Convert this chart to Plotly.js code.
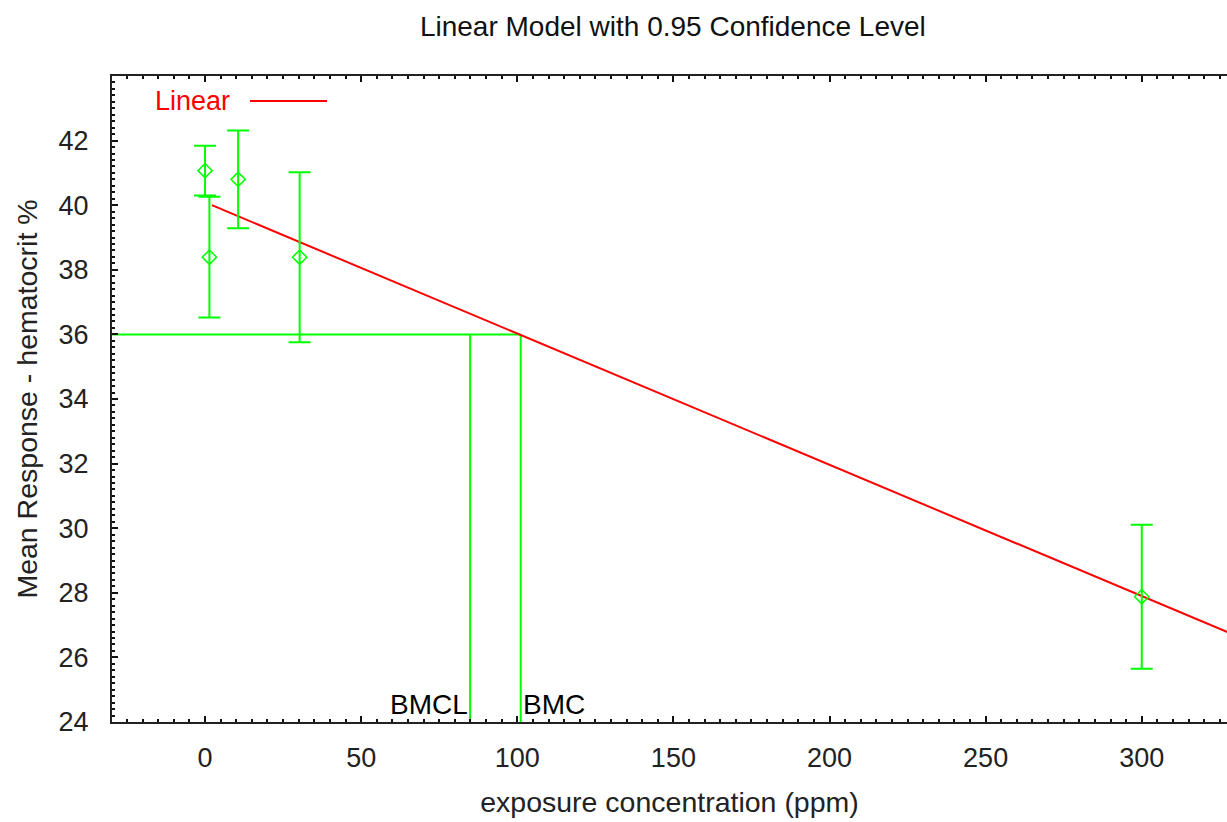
<!DOCTYPE html>
<html>
<head>
<meta charset="utf-8">
<script src="https://cdn.plot.ly/plotly-3.0.1.min.js"></script>
<style>html,body{margin:0;padding:0;background:#fff;overflow:hidden}</style>
</head>
<body>
<div id="chart" style="width:1227px;height:822px"></div>
<script>
// Observed data (dose, mean, +/- CI half-width)
const doses = [0, 1.4, 10.6, 30.3, 300];
const means = [41.07, 38.39, 40.80, 38.39, 27.88];
const errHalf = [0.77, 1.87, 1.51, 2.63, 2.23];

// Fitted linear model line (end points)
const fitX = [2.2, 330];
const fitY = [40.0, 26.68];

// Benchmark values
const bmrLevel = 36;
const bmc = 101.1;
const bmcl = 84.9;
const yFloor = 24;
const xLeft = -29.8;

const xTicks = [0, 50, 100, 150, 200, 250, 300];
const yTicks = [24, 26, 28, 30, 32, 34, 36, 38, 40, 42];

const GREEN = '#00ff00';
const RED = '#ff0000';
const FONT = 'Liberation Sans, Arial, sans-serif';

const traces = [
  {x: [xLeft, bmc], y: [bmrLevel, bmrLevel], mode: 'lines', line: {color: GREEN, width: 2}, hoverinfo: 'skip'},
  {x: [bmcl, bmcl], y: [yFloor, bmrLevel], mode: 'lines', line: {color: GREEN, width: 2}, hoverinfo: 'skip'},
  {x: [bmc, bmc], y: [yFloor, bmrLevel], mode: 'lines', line: {color: GREEN, width: 2}, hoverinfo: 'skip'},
  {x: fitX, y: fitY, mode: 'lines', name: 'Linear', line: {color: RED, width: 2}},
  {x: doses, y: means, mode: 'markers',
   marker: {symbol: 'diamond-open', size: 11, color: GREEN, line: {width: 1.5, color: GREEN}},
   error_y: {type: 'data', array: errHalf, visible: true, color: GREEN, thickness: 2, width: 11}}
];

const layout = {
  width: 1227, height: 822,
  margin: {l: 112, r: 0, t: 76, b: 100},
  paper_bgcolor: '#fff', plot_bgcolor: '#fff',
  showlegend: false,
  font: {family: FONT, size: 26, color: '#222'},
  title: {text: 'Linear Model with 0.95 Confidence Level', font: {family: FONT, size: 28, color: '#111'},
          xref: 'paper', x: 0.503, xanchor: 'center', yref: 'container', y: 1 - 26/822, yanchor: 'middle'},
  xaxis: {
    range: [xLeft, 327.3], tickvals: xTicks, ticktext: xTicks.map(String),
    ticks: 'inside', ticklen: 6, tickwidth: 2, tickcolor: '#111',
    minor: {dtick: 5, ticks: 'inside', ticklen: 3, tickwidth: 2, tickcolor: '#111'},
    showline: true, linecolor: '#222', linewidth: 2, mirror: 'ticks',
    showgrid: false, zeroline: false, ticklabelstandoff: 11,
    tickfont: {family: FONT, size: 27, color: '#222'},
    title: {text: 'exposure concentration (ppm)', font: {family: FONT, size: 28.5, color: '#222'}, standoff: 20}
  },
  yaxis: {
    range: [24, 44], tickvals: yTicks, ticktext: yTicks.map(String),
    ticks: 'inside', ticklen: 6, tickwidth: 2, tickcolor: '#111',
    minor: {dtick: 0.2, ticks: 'inside', ticklen: 3, tickwidth: 2, tickcolor: '#111'},
    showline: true, linecolor: '#222', linewidth: 2, mirror: false,
    showgrid: false, zeroline: false, ticklabelstandoff: 16,
    tickfont: {family: FONT, size: 27, color: '#222'},
    title: {text: 'Mean Response - hematocrit %', font: {family: FONT, size: 28.5, color: '#222'}, standoff: 13}
  },
  annotations: [
    {x: bmcl, y: yFloor, xref: 'x', yref: 'y', text: 'BMCL', showarrow: false,
     xanchor: 'right', yanchor: 'bottom', xshift: -1, yshift: 1, borderpad: 0,
     font: {family: FONT, size: 28, color: '#000'}},
    {x: bmc, y: yFloor, xref: 'x', yref: 'y', text: 'BMC', showarrow: false,
     xanchor: 'left', yanchor: 'bottom', xshift: 1, yshift: 1, borderpad: 0,
     font: {family: FONT, size: 28, color: '#000'}},
    {x: 156, y: 101, xref: 'paper', yref: 'paper', text: 'Linear', showarrow: false,
     xanchor: 'left', yanchor: 'middle', borderpad: 0,
     font: {family: FONT, size: 27, color: RED}}
  ],
  shapes: []
};

// legend text/sample placed in pixel terms converted to paper coords
const plotW = 1227 - 112, plotH = 822 - 76 - 100;
layout.annotations[2].x = (154 - 112) / plotW;
layout.annotations[2].y = 1 - (101 - 76) / plotH;
layout.shapes.push({type: 'line', xref: 'paper', yref: 'paper',
  x0: (250 - 112) / plotW, x1: (327 - 112) / plotW,
  y0: 1 - (101 - 76) / plotH, y1: 1 - (101 - 76) / plotH,
  line: {color: RED, width: 2}});

Plotly.newPlot('chart', traces, layout, {displayModeBar: false, staticPlot: true});
</script>
</body>
</html>
